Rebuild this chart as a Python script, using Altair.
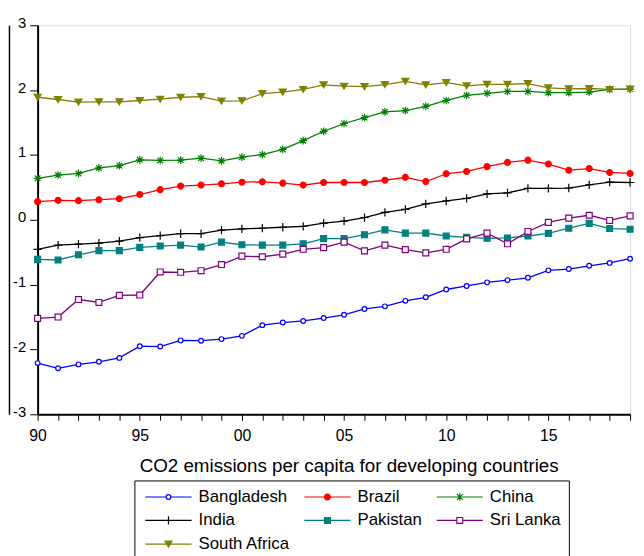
import altair as alt
import pandas as pd

years = list(range(1990, 2020))
countries = ["Bangladesh", "Brazil", "China", "India", "Pakistan", "Sri Lanka", "South Africa"]
colors = ["#0000FF", "#FF0000", "#008000", "#000000", "#008080", "#800080", "#808000"]
fills = ["#FFFFFF", "#FF0000", "#008000", "#000000", "#008080", "#FFFFFF", "#808000"]

bangladesh = [-2.21, -2.29, -2.23, -2.19, -2.13, -1.95, -1.955, -1.86, -1.865, -1.84,
              -1.79, -1.625, -1.585, -1.56, -1.515, -1.465, -1.375, -1.335, -1.25, -1.195,
              -1.075, -1.02, -0.965, -0.93, -0.895, -0.78, -0.76, -0.71, -0.665, -0.6]
brazil = [0.28, 0.30, 0.295, 0.31, 0.325, 0.39, 0.465, 0.52, 0.535, 0.555,
          0.58, 0.585, 0.565, 0.535, 0.575, 0.575, 0.575, 0.61, 0.655, 0.59,
          0.71, 0.745, 0.82, 0.885, 0.92, 0.86, 0.765, 0.79, 0.73, 0.715]
china = [0.64, 0.69, 0.715, 0.80, 0.835, 0.925, 0.915, 0.92, 0.95, 0.91,
         0.965, 1.005, 1.085, 1.22, 1.365, 1.485, 1.575, 1.665, 1.685, 1.75,
         1.84, 1.92, 1.95, 1.98, 1.98, 1.96, 1.96, 1.97, 2.01, 2.015]
india = [-0.455, -0.39, -0.375, -0.36, -0.33, -0.275, -0.245, -0.215, -0.215, -0.16,
         -0.14, -0.13, -0.115, -0.10, -0.05, -0.02, 0.035, 0.115, 0.16, 0.245,
         0.29, 0.33, 0.40, 0.415, 0.485, 0.485, 0.49, 0.54, 0.58, 0.575]
pakistan = [-0.61, -0.62, -0.54, -0.475, -0.475, -0.425, -0.405, -0.39, -0.42, -0.345,
            -0.385, -0.39, -0.39, -0.37, -0.29, -0.29, -0.23, -0.155, -0.205, -0.205,
            -0.25, -0.27, -0.285, -0.28, -0.25, -0.21, -0.13, -0.055, -0.135, -0.145]
sri_lanka = [-1.52, -1.50, -1.23, -1.275, -1.165, -1.16, -0.805, -0.81, -0.785, -0.69,
             -0.56, -0.57, -0.53, -0.455, -0.43, -0.345, -0.48, -0.39, -0.46, -0.51,
             -0.455, -0.295, -0.205, -0.37, -0.18, -0.04, 0.025, 0.07, -0.01, 0.06]
south_africa = [1.89, 1.855, 1.815, 1.82, 1.82, 1.84, 1.86, 1.89, 1.90, 1.83,
                1.835, 1.945, 1.97, 2.01, 2.08, 2.06, 2.055, 2.085, 2.135, 2.08,
                2.115, 2.065, 2.09, 2.09, 2.10, 2.035, 2.02, 2.025, 2.01, 2.015]

series = [bangladesh, brazil, china, india, pakistan, sri_lanka, south_africa]
y_ticks = [-3, -2, -1, 0, 1, 2, 3]

# marker shapes (unit square -1..1)
marker_paths = [
    "M-0.8,0A0.8,0.8,0,1,0,0.8,0A0.8,0.8,0,1,0,-0.8,0Z",
    "M-1,0A1,1,0,1,0,1,0A1,1,0,1,0,-1,0Z",
    "M-1.3,0H1.3M0,-1.3V1.3M-0.95,-0.95L0.95,0.95M-0.95,0.95L0.95,-0.95",
    "M-1.4,0H1.4M0,-1.4V1.4",
    "M-1,-1H1V1H-1Z",
    "M-1,-1H1V1H-1Z",
    "M-1.2,-1H1.2L0,1Z",
]
# legend symbols: line + marker
legend_paths = [
    "M-7.8,0H-0.8M0.8,0H7.8M-0.8,0A0.8,0.8,0,1,0,0.8,0A0.8,0.8,0,1,0,-0.8,0Z",
    "M-7.8,0H7.8M-1,0A1,1,0,1,0,1,0A1,1,0,1,0,-1,0Z",
    "M-7.8,0H7.8M0,-1.3V1.3M-0.95,-0.95L0.95,0.95M-0.95,0.95L0.95,-0.95",
    "M-7.8,0H7.8M0,-1.4V1.4",
    "M-7.8,0H7.8M-1,-1H1V1H-1Z",
    "M-7.8,0H-1M1,0H7.8M-1,-1H1V1H-1Z",
    "M-7.8,0H7.8M-1.2,-1H1.2L0,1Z",
]

rows = []
for c, vals in zip(countries, series):
    for yr, v in zip(years, vals):
        rows.append({"year": yr, "value": v, "country": c})
df = pd.DataFrame(rows)

FONT = "Liberation Sans"

x_enc = alt.X(
    "year:Q",
    scale=alt.Scale(domain=[1990, 2019], nice=False, zero=False),
    axis=alt.Axis(
        values=years,
        labelExpr="datum.value % 5 == 0 ? substring(toString(datum.value), 2, 4) : ''",
        labelOverlap=False,
        labelFlush=False,
        labelFontSize=16,
        labelFont=FONT,
        labelColor="#000000",
        labelPadding=8,
        tickSize=6,
        tickColor="#000000",
        domainColor="#000000",
        domainWidth=2,
        grid=False,
        title="CO2 emissions per capita for developing countries",
        titleFont=FONT,
        titleFontSize=19,
        titleFontWeight="normal",
        titleColor="#000000",
        titlePadding=13,
        titleX=315,
        titleAlign="center",
    ),
)

y_scale = alt.Scale(domain=[-3, 3], nice=False, zero=False)

y_main = alt.Y(
    "value:Q",
    scale=y_scale,
    axis=alt.Axis(
        values=y_ticks,
        labelExpr="toString(datum.value)",
        labelFlush=False,
        labelOffset=-3,
        labelFontSize=15,
        labelFont=FONT,
        labelColor="#000000",
        labelPadding=4,
        tickSize=8,
        tickColor="#000000",
        domainColor="#000000",
        domainWidth=2,
        grid=False,
        title=None,
    ),
)

lines = alt.Chart(df).mark_line(strokeWidth=1.3).encode(
    x=x_enc,
    y=y_main,
    color=alt.Color("country:N", scale=alt.Scale(domain=countries, range=colors), legend=None),
    detail="country:N",
)

points = alt.Chart(df).mark_point(size=36, opacity=1, strokeWidth=1.2).encode(
    x=x_enc,
    y=alt.Y("value:Q", scale=y_scale, axis=None),
    shape=alt.Shape("country:N", scale=alt.Scale(domain=countries, range=marker_paths), legend=None),
    stroke=alt.Stroke("country:N", scale=alt.Scale(domain=countries, range=colors), legend=None),
    fill=alt.Fill("country:N", scale=alt.Scale(domain=countries, range=fills), legend=None),
)

leg = alt.Legend(
    title=None,
    orient="none",
    direction="horizontal",
    legendX=98,
    legendY=461,
    columns=3,
    strokeColor="#000000",
    padding=8,
    labelFont=FONT,
    labelFontSize=17,
    labelColor="#000000",
    symbolSize=36,
    symbolStrokeWidth=1.2,
    symbolOffset=18,
    labelOffset=22,
    columnPadding=11,
    rowPadding=6,
)

legend_layer = alt.Chart(df).transform_filter("false").mark_point(size=36, opacity=1, strokeWidth=1.2).encode(
    x=x_enc,
    y=alt.Y(
        "value:Q",
        scale=y_scale,
        axis=alt.Axis(orient="left", offset=29, labels=False, ticks=False, grid=False,
                      title=None, domainColor="#000000", domainWidth=1.5),
    ),
    shape=alt.Shape("country:N", scale=alt.Scale(domain=countries, range=legend_paths), legend=leg, sort=countries),
    stroke=alt.Stroke("country:N", scale=alt.Scale(domain=countries, range=colors), legend=leg, sort=countries),
    fill=alt.Fill("country:N", scale=alt.Scale(domain=countries, range=fills), legend=leg, sort=countries),
)

chart = (
    alt.layer(lines, points, legend_layer)
    .resolve_scale(y="independent", shape="independent", stroke="independent",
                   fill="independent", color="independent")
    .properties(
        width=600,
        height=394,
        autosize=alt.AutoSizeParams(type="none"),
        padding={"left": 30, "top": 14, "right": 6, "bottom": 140},
    )
    .configure_view(stroke="#000000", strokeWidth=1)
    .configure(background="#FFFFFF")
)

chart.save("out.html", embed_options={"renderer": "svg", "actions": False})
